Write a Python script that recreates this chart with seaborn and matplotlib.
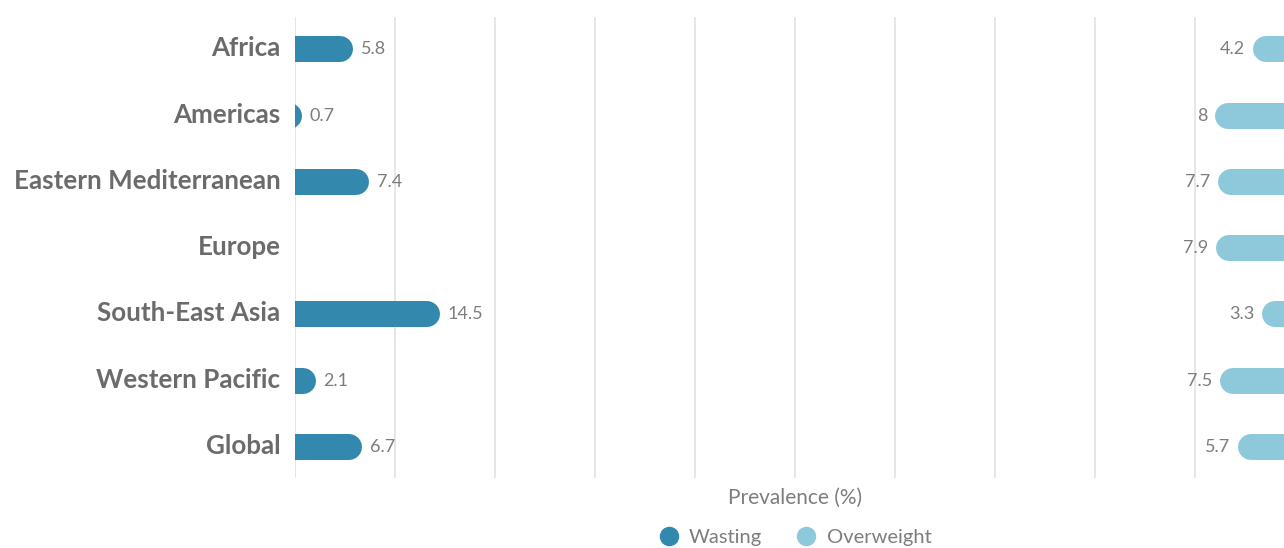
import numpy as np
import matplotlib.pyplot as plt
import matplotlib.transforms as mtransforms
import seaborn as sns
from matplotlib.lines import Line2D

## Data
regions = ["Africa", "Americas", "Eastern Mediterranean", "Europe",
           "South-East Asia", "Western Pacific", "Global"]
wasting = [5.8, 0.7, 7.4, np.nan, 14.5, 2.1, 6.7]
overweight = [4.2, 8, 7.7, 7.9, 3.3, 7.5, 5.7]

wasting_color = "#3288ad"
overweight_color = "#8ec9db"
text_grey = "#6b6b6b"
value_grey = "#7d7d7d"

sns.set_theme(style="white")
plt.rcParams["font.family"] = ["Lato", "DejaVu Sans"]

fig = plt.figure(figsize=(12.84, 5.48), dpi=100)
# axes spans from the zero line to the right edge (overweight panel is cut off)
ax = fig.add_axes([295 / 1284, 1 - 478 / 548, 989 / 1284, 461 / 548])

ax.set_xlim(0, 98.9)
ax.set_ylim(6.47, -0.49)

## bars as thick lines with round caps; radius of the cap in x units
bar_px = 26
lw = bar_px * 72 / 100
r = bar_px / 2 / 10
y = np.arange(len(regions))

for i, v in enumerate(wasting):
    if np.isnan(v):
        continue
    ax.plot([-5, v - r], [y[i], y[i]], color=wasting_color, lw=lw,
            solid_capstyle="round", clip_on=True, zorder=3)
    ax.annotate(f"{v:g}", (v, y[i]), xytext=(5.5, 0), textcoords="offset points",
                ha="left", va="center", fontsize=13, color=value_grey)

# overweight bars grow leftwards from x=100 (just off the image)
for i, v in enumerate(overweight):
    start = 100 - v
    ax.plot([start + r, 110], [y[i], y[i]], color=overweight_color, lw=lw,
            solid_capstyle="round", clip_on=True, zorder=3)
    ax.annotate(f"{v:g}", (start, y[i]), xytext=(-5.5, 0), textcoords="offset points",
                ha="right", va="center", fontsize=13, color=value_grey)

ax.set_xticks(np.arange(0, 100, 10))
ax.set_xticklabels([])
ax.grid(axis="x", color="#e2e2e2", lw=1.2)
ax.grid(axis="y", visible=False)
ax.set_yticks(y)
ax.set_yticklabels(regions, fontsize=18.7, fontweight="bold", color=text_grey)
ax.tick_params(axis="y", length=0, pad=10.5)
ax.tick_params(axis="x", length=0)
up = mtransforms.ScaledTranslation(0, 3 / 100, fig.dpi_scale_trans)
for lab in ax.get_yticklabels():
    lab.set_transform(lab.get_transform() + up)
sns.despine(ax=ax, left=True, bottom=True)

fig.text(795 / 1284, 1 - 498 / 548, "Prevalence (%)", ha="center", va="center",
         fontsize=15, color=value_grey)

handles = [
    Line2D([], [], marker="o", ls="", markersize=13, color=wasting_color, label="Wasting"),
    Line2D([], [], marker="o", ls="", markersize=13, color=overweight_color, label="Overweight"),
]
leg = fig.legend(handles=handles, loc="center", bbox_to_anchor=(795 / 1284, 1 - 537 / 548),
                 ncol=2, frameon=False, fontsize=14.5, handletextpad=0.5,
                 columnspacing=1.7, handlelength=1.0)
for t in leg.get_texts():
    t.set_color(value_grey)

fig.savefig("out.png", dpi=100)
